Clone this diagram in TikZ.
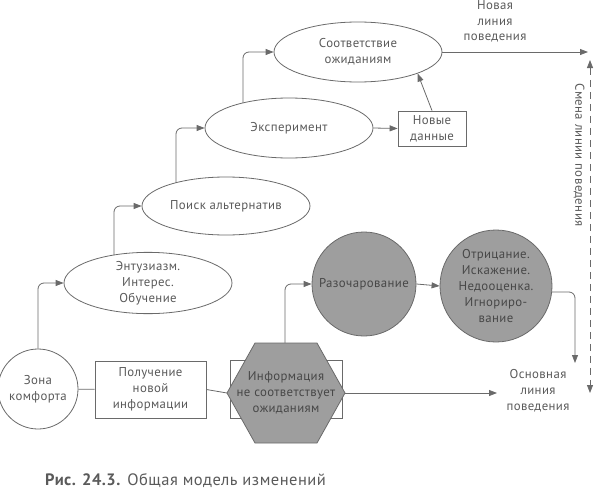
\documentclass[tikz,border=0pt]{standalone}
\usepackage{fontspec}
\setmainfont{PT Sans}[LetterSpace=3]
\usetikzlibrary{shapes.geometric,arrows.meta,calc}
\pgfdeclarelayer{background}
\pgfsetlayers{background,main}
\definecolor{ln}{HTML}{6A6A6A}
\definecolor{tx}{HTML}{5A5A5A}
\definecolor{gf}{HTML}{9E9E9E}
\definecolor{gt}{HTML}{474747}
\tikzset{
  base/.style={font=\fontsize{12.8}{15.8}\selectfont, text=tx, align=center, inner sep=0pt},
  ell/.style={base, ellipse, draw=ln, fill=white, line width=0.8pt, minimum width=168pt, minimum height=60pt},
  boxn/.style={base, rectangle, draw=ln, fill=white, line width=0.8pt},
  gcirc/.style={base, circle, draw=ln, fill=gf, text=gt, line width=0.8pt},
  conn/.style={draw=ln, line width=0.8pt, rounded corners=6pt},
  arr/.style={conn, -{Triangle[length=8pt,width=6pt]}},
}
\begin{document}
\begin{tikzpicture}[x=1pt,y=-1pt]
\useasboundingbox (0,0) rectangle (595,490);
% nodes
\node[base, circle, draw=ln, fill=white, line width=0.8pt, minimum size=80pt] (zona) at (38,389) {Зона\\комфорта};
\node[boxn, minimum width=111pt, minimum height=57pt] (pol) at (150.5,389.5) {Получение\\новой\\информации};
\node[boxn, minimum width=112pt, minimum height=58pt] (hexbox) at (286,389) {};
\coordinate (hexL) at (227,393);
\coordinate (hexR) at (345,393);
\coordinate (hexT) at (285,343);
\draw[ln, fill=gf, line width=0.8pt] (hexL) -- (255,343) -- (317,343) -- (hexR) -- (317,443) -- (255,443) -- cycle;
\node[base, text=gt] (hex) at (286,393) {Информация\\не соответствует\\ожиданиям};
\node[gcirc, minimum size=104pt] (razo) at (364,284) {Разочарование};
\node[gcirc, minimum size=112pt] (otr) at (496,286) {Отрицание.\\Искажение.\\Недооценка.\\Игнориро-\\вание};
\node[base] (osn) at (538,391) {Основная\\линия\\поведения};
\node[ell] (ent) at (148,283) {Энтузиазм.\\Интерес.\\Обучение};
\node[ell, minimum height=58pt] (poisk) at (226,206) {Поиск альтернатив};
\node[ell] (eksp) at (289,128) {Эксперимент};
\node[ell] (sootv) at (358,52) {Соответствие\\ожиданиям};
\node[boxn, minimum width=68pt, minimum height=35pt] (nd) at (432,128.5) {Новые\\данные};
\node[base] (nov) at (495,21.5) {Новая\\линия\\поведения};
\node[base, rotate=-90] (smena) at (579,155) {Смена линии поведения};
\node[font=\fontsize{16.5}{19}\selectfont, text=tx, anchor=base west, inner sep=0pt] (cap) at (45,485.5) {\textbf{Рис. 24.3.} Общая модель изменений};
\coordinate (osnA) at (497,393);
\coordinate (novA) at (588,52);
\coordinate (otrA) at (575,363);
\coordinate (smT) at (590,60);
\coordinate (smB) at (590,393);
% connectors
\begin{pgfonlayer}{background}
\draw[conn] (zona) -- (pol);
\draw[conn] (pol.east) -- (hexL);
\draw[arr] (hexR) -- (osnA);
\draw[arr] (hexT) |- (razo.west);
\draw[arr] (razo.east) -- (otr.west);
\draw[arr] ($(otr.center)+(0,6)$) -| (otrA);
\draw[arr] (zona.north) |- (ent.west);
\draw[arr] ($(ent.center)+(-34,0)$) |- (poisk.west);
\draw[arr] ($(poisk.center)+(-50,0)$) |- (eksp.west);
\draw[arr] ($(eksp.center)+(-46,0)$) |- (sootv.west);
\draw[arr] (eksp.east) -- (nd.west);
\draw[arr] (nd.north) -- (sootv.south east);
\draw[arr] (sootv.center) -- (novA);
\draw[draw=ln, line width=0.8pt, dashed, dash pattern=on 7pt off 5pt, {Triangle[length=8pt,width=6pt]}-{Triangle[length=8pt,width=6pt]}] (smT) -- (smB);
\end{pgfonlayer}
\end{tikzpicture}
\end{document}
